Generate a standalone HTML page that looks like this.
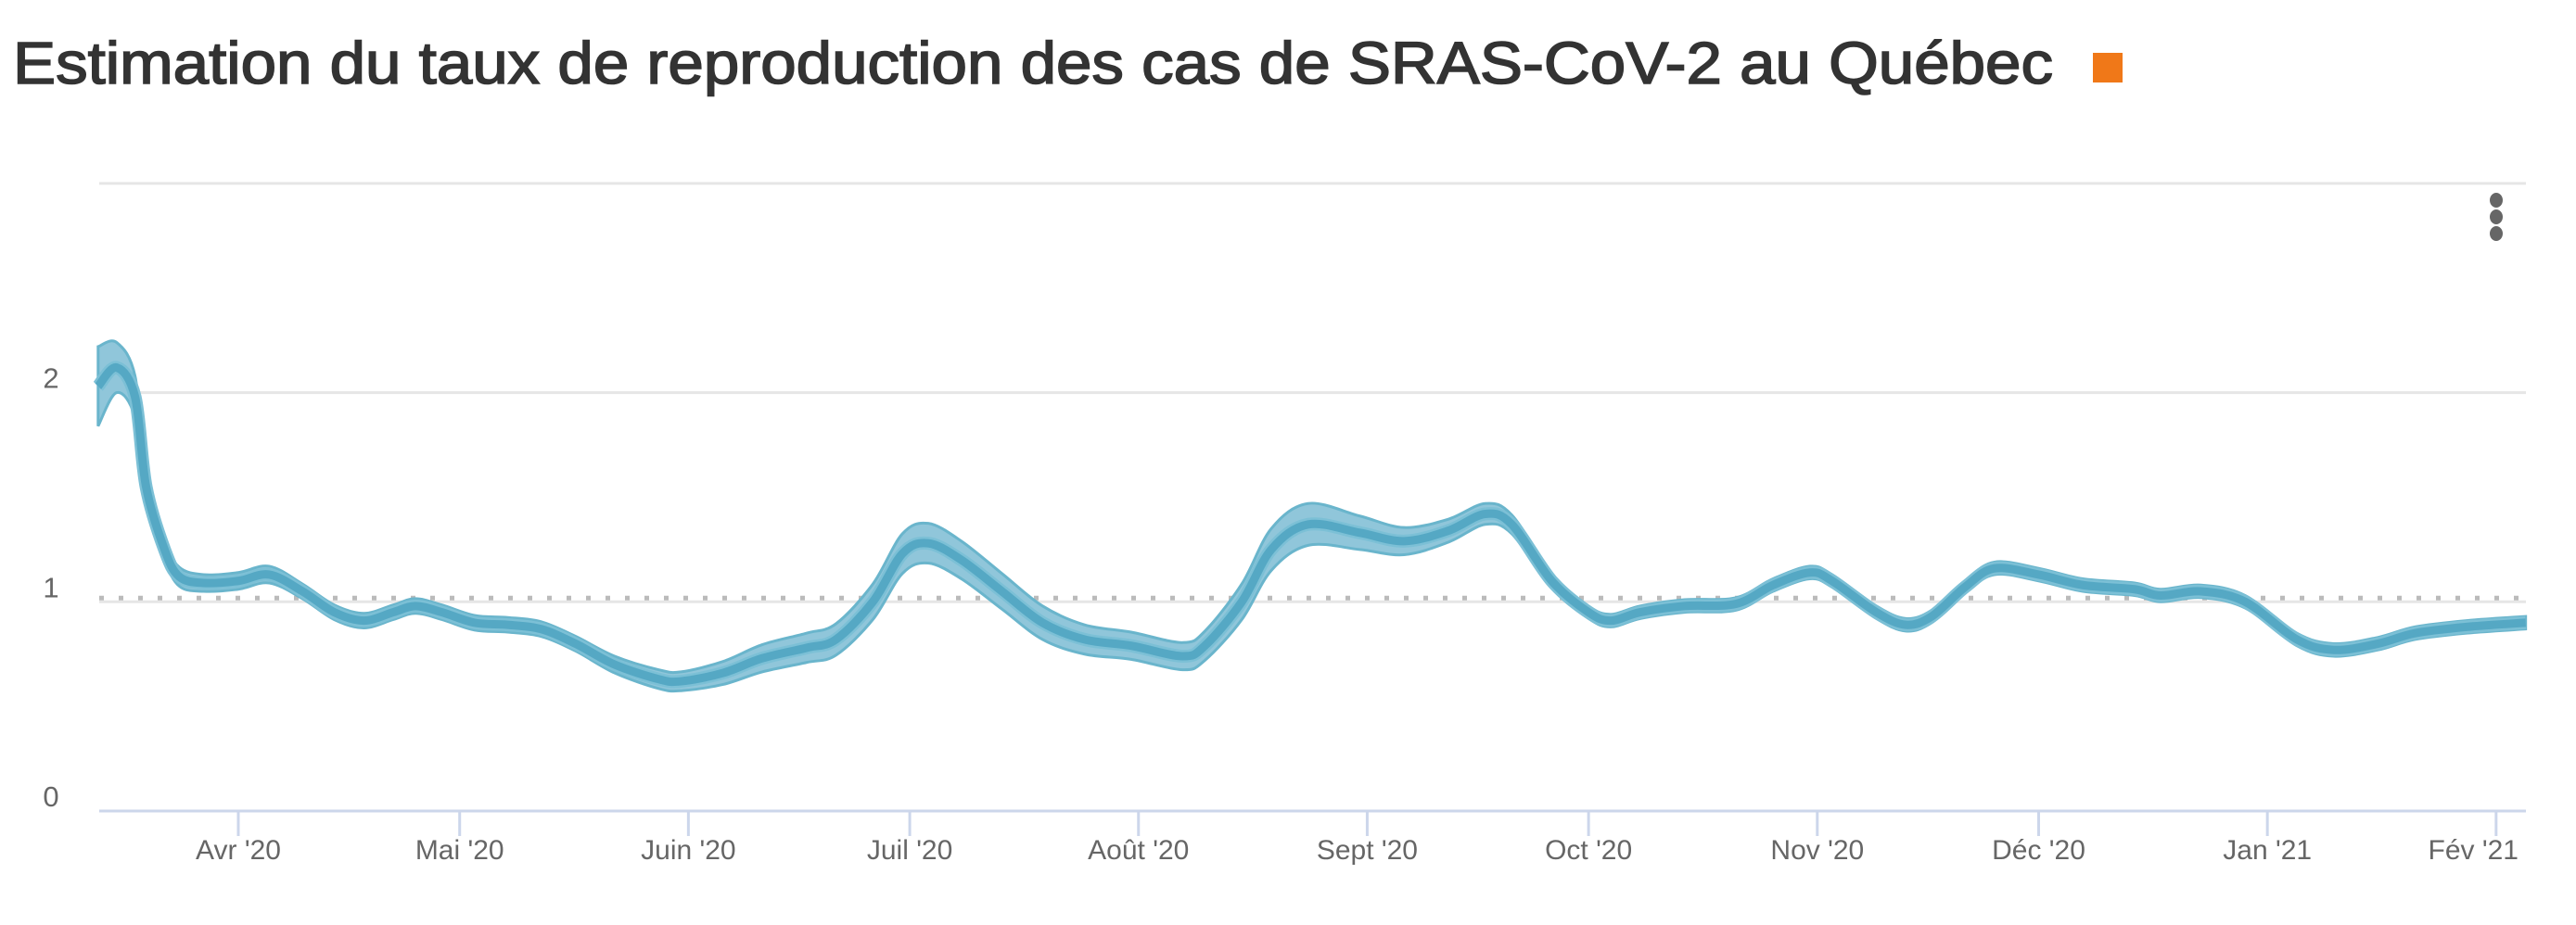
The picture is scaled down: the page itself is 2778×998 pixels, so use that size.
<!DOCTYPE html>
<html><head><meta charset="utf-8"><style>
html,body{margin:0;padding:0;background:#fff;}
svg{display:block;font-family:"Liberation Sans",sans-serif;}
</style></head><body>
<svg id="chart" width="2778" height="998" viewBox="0 0 2778 998" xmlns="http://www.w3.org/2000/svg">
<text x="14" y="90" font-size="64" fill="#333" stroke="#333" stroke-width="1.6" textLength="2200" lengthAdjust="spacingAndGlyphs">Estimation du taux de reproduction des cas de SRAS-CoV-2 au Québec</text>
<rect x="2257" y="57" width="32" height="32" fill="#f07818"/>
<g fill="#666">
<ellipse cx="2692" cy="216" rx="7" ry="8"/><ellipse cx="2692" cy="234" rx="7" ry="8"/><ellipse cx="2692" cy="252" rx="7" ry="8"/>
</g>
<g id="grid"></g><g id="series"></g><g id="axes"></g>
</svg>
<script>
const days  = [-19,-16.5,-14,-12.5,-10,-8,-4.7,0,4.2,8.7,13,17,21,24,27.6,32,36.5,41,45.7,51,57,60,65.7,71,77,81,86,90,93.5,98,103.5,109,114.7,121,128,131,136,140,145,152,158,164,169,172.6,178,183,186,190,196,203,208,213,216,222,226,229.5,234,238,244,250,257,260.5,266,272,279,284,290,295,302,310];
const meanR = [2.03,2.12,1.98,1.55,1.25,1.12,1.09,1.10,1.13,1.05,0.95,0.91,0.95,0.98,0.95,0.90,0.89,0.87,0.80,0.70,0.63,0.62,0.66,0.73,0.78,0.82,1.00,1.23,1.28,1.20,1.05,0.90,0.82,0.79,0.74,0.79,1.00,1.25,1.37,1.33,1.29,1.34,1.42,1.37,1.10,0.95,0.91,0.95,0.98,0.99,1.08,1.14,1.10,0.95,0.89,0.93,1.07,1.16,1.13,1.08,1.06,1.03,1.05,1.00,0.82,0.77,0.80,0.85,0.88,0.90];
const halfW = [0.19,0.12,0.10,0.06,0.045,0.045,0.04,0.04,0.04,0.035,0.035,0.035,0.035,0.035,0.035,0.035,0.035,0.035,0.035,0.04,0.045,0.045,0.055,0.065,0.07,0.075,0.085,0.095,0.095,0.09,0.085,0.08,0.07,0.065,0.065,0.07,0.085,0.1,0.1,0.08,0.065,0.055,0.05,0.045,0.035,0.03,0.03,0.03,0.03,0.03,0.03,0.03,0.03,0.03,0.03,0.03,0.03,0.03,0.03,0.03,0.03,0.03,0.03,0.03,0.03,0.03,0.03,0.03,0.03,0.03];
const yTicks = [0,1,2,3];
const xTickDays = [0,30,61,91,122,153,183,214,244,275,306];
const xTickLabels = ["Avr '20","Mai '20","Juin '20","Juil '20","Août '20","Sept '20","Oct '20","Nov '20","Déc '20","Jan '21","Fév '21"];

const NS="http://www.w3.org/2000/svg";
const L=107,R=2724,Y0=875,UNIT=225.7;
const xs=d=>257+d*7.957;
const ys=v=>Y0-v*UNIT;
function mk(tag,attrs,parent){const e=document.createElementNS(NS,tag);for(const k in attrs)e.setAttribute(k,attrs[k]);parent.appendChild(e);return e;}
function pathThrough(pts){let s="M"+pts[0][0]+","+pts[0][1];for(let i=0;i<pts.length-1;i++){const p0=pts[Math.max(0,i-1)],p1=pts[i],p2=pts[i+1],p3=pts[Math.min(pts.length-1,i+2)];const c1x=p1[0]+(p2[0]-p0[0])/6,c1y=p1[1]+(p2[1]-p0[1])/6,c2x=p2[0]-(p3[0]-p1[0])/6,c2y=p2[1]-(p3[1]-p1[1])/6;s+=" C"+c1x+","+c1y+" "+c2x+","+c2y+" "+p2[0]+","+p2[1];}return s;}

const grid=document.getElementById('grid'),series=document.getElementById('series'),axes=document.getElementById('axes');
yTicks.forEach(v=>{
  if(v>0){const g=mk('line',{x1:L,x2:R,y1:ys(v),y2:ys(v),stroke:'#e6e6e6','stroke-width':3},grid);
  
  }
  const t=mk('text',{x:55,y:ys(v)-5,'font-size':31,fill:'#666','text-anchor':'middle'},axes);
  t.textContent=v<3?String(v):'';
  
  
});
const ref=mk('line',{x1:L,x2:R,y1:ys(1)-4,y2:ys(1)-4,stroke:'#bbb','stroke-width':5,'stroke-dasharray':'5 16'},grid);



const up=days.map((d,i)=>[xs(d),ys(meanR[i]+halfW[i])]);
const lo=days.map((d,i)=>[xs(d),ys(meanR[i]-halfW[i])]).reverse();
const upP=pathThrough(up),loP=pathThrough(lo);
const band=mk('path',{d:upP+" L"+lo[0][0]+","+lo[0][1]+loP.replace(/^M[^C]*/,'')+" Z",fill:'#90c6da',stroke:'#6ab5cc','stroke-width':3},series);


const ml=mk('path',{d:pathThrough(days.map((d,i)=>[xs(d),ys(meanR[i])])),fill:'none',stroke:'#7cc0d6','stroke-width':14,'stroke-linejoin':'round'},series);


const m=mk('path',{d:pathThrough(days.map((d,i)=>[xs(d),ys(meanR[i])])),fill:'none',stroke:'#55a8c4','stroke-width':9,'stroke-linejoin':'round'},series);



const ax=mk('line',{x1:L,x2:R,y1:Y0,y2:Y0,stroke:'#ccd6eb','stroke-width':3},axes);


xTickDays.forEach((d,i)=>{
  const x=xs(d);
  const tk=mk('line',{x1:x,x2:x,y1:Y0,y2:Y0+27,stroke:'#ccd6eb','stroke-width':3},axes);
  
  
  const last=i===xTickDays.length-1;
  const t=mk('text',{x:last?2716:x,y:927,'font-size':30,fill:'#666','text-anchor':last?'end':'middle'},axes);
  t.textContent=xTickLabels[i];
  
  
});
</script>
</body></html>
